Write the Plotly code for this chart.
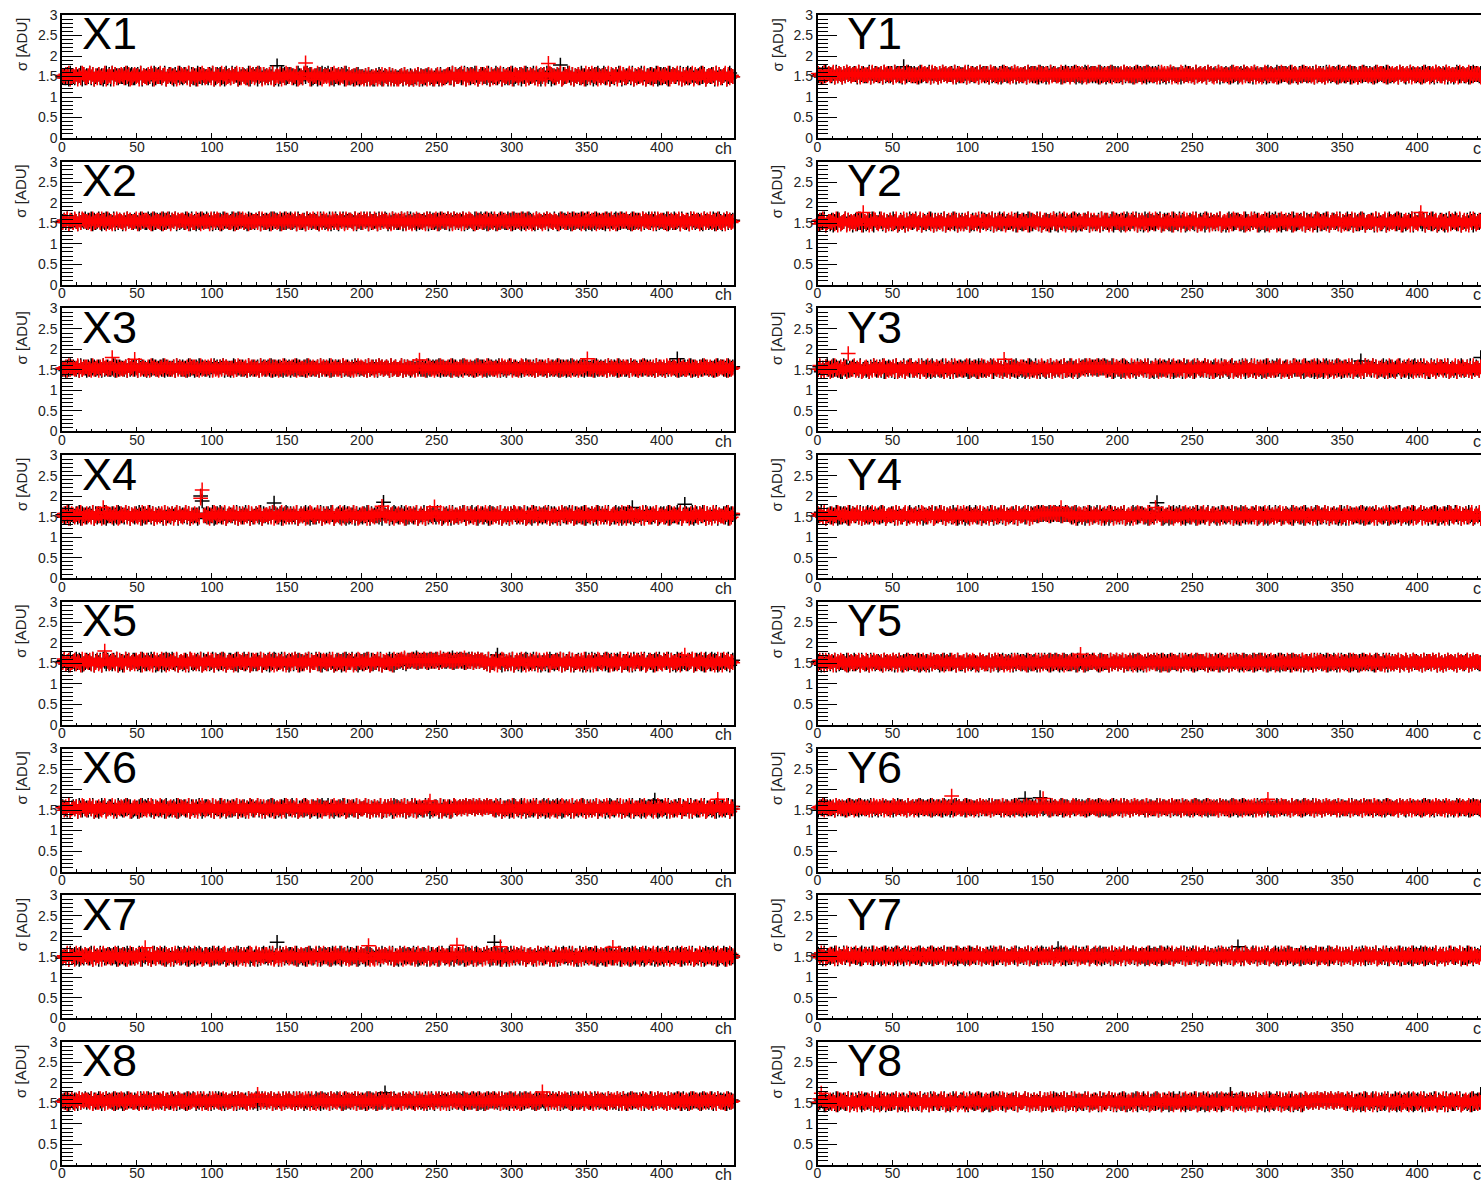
import numpy as np
import plotly.graph_objects as go

W, H = 1481, 1180

# pad geometry (pixels): 8 rows x 2 columns, right column runs off the page edge
COL_LEFT = [62.0, 817.5]
PAD_W = 671.5
ROW_TOP0, ROW_PITCH, PAD_H = 15.0, 146.7, 123.0
N_CH = 448
PX_PER_CH = PAD_W / N_CH

# pedestal sigma per channel, stored as one digit per channel:
# sigma = level + (digit - 4.5) * STEP
STEP = 0.03

panel_names = ["X1", "X2", "X3", "X4", "X5", "X6", "X7", "X8",
               "Y1", "Y2", "Y3", "Y4", "Y5", "Y6", "Y7", "Y8"]
panel_levels = [1.51, 1.53, 1.53, 1.53, 1.53, 1.54, 1.51, 1.54,
                1.53, 1.53, 1.53, 1.53, 1.50, 1.54, 1.52, 1.54]

x_tick_step = 50
y_tick_step = 0.5
y_range = [0, 3]

x1_black = """
45362754 36457263 54736245 63524736 27465354 46372563 35647254 53462735
64357246 45263574 36547263 52746354 43657236 56342745 37465234 65437256
46275364 53647235 24756346 65342754 36475623 45263746 57436245 34652743
34253624 43526342 25364235 42635243 34526342 53243625 24356342 35426334
45637264 56347265 36475246 64537254 47356263 53647245 36254763 45736452
56374625 34657264 47536254 63745236 45263754 57346245 36475263 54637254
45736254 63547236 36452746 54637263 47365354 53746245 46527364 35624754
"""
x1_red = """
53647245 46253764 35746253 64357245 47263546 53746235 64527354 36475264
47356245 63542736 54637246 35264753 46537264 52746345 36457263 64352746
35746263 54637245 46253764 63547235 37465264 54736245 45263754 63547236
34526343 42536234 35243625 43625342 24536342 34253624 43526353 24635243
56347264 45736253 64537246 36475263 53647254 46372565 35647253 64537246
46253764 53647236 45736254 64352746 37546253 54637264 46257364 35746253
64537245 36254763 54637246 45736253 63547264 36475245 54637263 45726354
"""
x2_black = """
56473564 65374657 46573645 75364756 54736465 36475654 65437564 47563746
56374657 46573645 64756374 53647565 75463746 46375654 57364756 64537465
46573654 65374756 53647465 74563754 46375645 65437564 54736475 36574656
65473564 47563745 56374657 63547564 45736475 74653645 56473746 45637564
57364756 46573645 65374657 54736475 63547564 47563746 56374657 65437465
46573654 75364756 54637465 64756374 53647565 46375654 67364756 54537465
65374657 46573645 56473564 74563754 46375645 65437564 54736475 36574656
"""
x2_red = """
46573654 75364765 54637456 64756374 53647565 46375645 57364756 65437465
54736475 36574656 65473564 47563745 56374657 63547564 45736475 74653645
56473746 45637564 57364756 46573645 65374657 54736475 63547564 47563746
65374657 46573654 75364756 54637465 64756374 53647565 46375654 67364756
47563746 56374657 65437465 46573654 75364756 54637465 64756374 53647565
36475654 65437564 47563746 56374657 46573645 64756374 53647565 75463746
46375654 57364756 64537465 46573654 65374756 53647465 74563754 46375645
"""
x3_black = """
45364756 54637465 36475645 65374564 45736465 54637456 46375645 35647564
56473645 45637564 64537465 36475654 55364756 46573645 35764564 64537456
45637564 56473645 64537456 35647564 46375645 54637465 45736465 65374564
36475645 54637456 46375645 65374564 45736465 35647564 64537456 56473645
45637564 36475654 55364756 64537465 46573645 35764564 45364756 54637465
64537456 45736465 36475645 56473645 54637456 45637564 65374564 46375645
35647564 64537465 45364756 54637456 46573645 36475654 55364756 64537456
"""
x3_red = """
54637465 45736456 64537456 36475645 56473645 45637564 65374564 46375645
35647564 54637465 45364756 64537456 46573645 36475654 55364756 45637564
64537456 45736465 36475645 56473645 54637456 45637564 65374564 46375645
45364756 54637465 36475645 65374564 45736465 54637456 46375645 35647564
56473645 45637564 64537465 36475654 55364756 46573645 35764564 64537456
45637564 56473645 64537456 35647564 46375645 54637465 45736465 65374564
36475645 54637456 46375645 65374564 45736465 35647564 64537456 56473645
"""
x4_black = """
53647254 46372645 35647263 64537245 46253764 53746254 36475263 45736254
64527345 36457264 54736245 45263754 63547236 47356245 54637264 35746253
46537264 53647245 36254763 64537246 45736253 53647264 46475245 63547263
45726354 36475264 54637245 46253764 35746253 64357245 47263546 53746235
64527354 36475264 47356245 63542736 54637246 35264753 46537264 52746345
36457263 64352746 35746263 54637245 46253764 63547235 37465264 54736245
45263754 63547236 56347264 45736253 64537246 36475263 53647254 46372565
"""
x4_red = """
46372565 35647253 64537246 46253764 53647236 45736254 64352746 37546253
54637264 46257364 35746253 64537245 36254763 54637246 45736253 63547264
36475245 54637263 45726354 53647245 46253764 35746253 64357245 47263546
53746235 64527354 36475264 47356245 63542736 54637246 35264753 46537264
52746345 36457263 64352746 35746263 54637245 46253764 63547235 37465264
54736245 45263754 63547236 45362754 36457263 54736245 63524736 27465354
46372563 35647254 53462735 64357246 45263574 36547263 52746354 43657236
"""
x5_black = """
56342745 37465234 65437256 46275364 53647235 24756346 65342754 36475623
45263746 57436245 34652743 45637264 56347265 36475246 64537254 47356263
53647245 36254763 45736452 56374625 34657264 47536254 63745236 45263754
57346245 36475263 54637254 45736254 65647356 56758465 67564756 57646575
56758465 67564657 57465756 64537254 47356263 53647245 36254763 45736452
45362754 36457263 54736245 63524736 27465354 46372563 35647254 53462735
64357246 45263574 36547263 52746354 43657236 56342745 37465234 65437256
"""
x5_red = """
47356245 63542736 54637246 35264753 46537264 52746345 36457263 64352746
35746263 54637245 46253764 63547235 37465264 54736245 45263754 63547236
56347264 45736253 64537246 36475263 53647254 46372565 35647253 64537246
46253764 53647236 45736254 64352746 56758465 67564756 57646575 65748566
67564657 56758465 57465756 64537245 36254763 54637246 45736253 63547264
36475245 54637263 45726354 53647245 46253764 35746253 64357245 47263546
53746235 64527354 36475264 45362754 36457263 54736245 63524736 27465354
"""
x6_black = """
65437256 46275364 53647235 24756346 65342754 36475623 45263746 57436245
34652743 45637264 56347265 36475246 64537254 47356263 53647245 36254763
45736452 56374625 34657264 47536254 63745236 45263754 57346245 36475263
54637254 45736254 63547236 36452746 54637263 47365354 53746245 46527364
35624754 56465746 65746575 46575664 53647245 46253764 35746253 64357245
47263546 53746235 64527354 36475264 53647245 46253764 35746253 64357245
47263546 53746235 64527354 36475264 46372563 35647254 53462735 64357246
"""
x6_red = """
53647245 46253764 35746253 64357245 47263546 53746235 64527354 36475264
47356245 63542736 54637246 35264753 46537264 52746345 36457263 64352746
35746263 54637245 46253764 63547235 37465264 54736245 45263754 63547236
56347264 45736253 64537246 36475263 53647254 46372565 35647253 64537246
46253764 56465746 65746575 46575664 37546253 54637264 46257364 35746253
64537245 36254763 54637246 45736253 63547264 36475245 54637263 45726354
53647245 46253764 35746253 64357245 47263546 53746235 64527354 36475264
"""
x7_black = """
35462754 63527436 45372645 27463546 53642735 46275364 35476254 63524736
54637245 36254763 47352645 26374536 45627354 73546235 64253746 35467253
46253674 53746352 27463546 64537245 35264753 46372546 53627435 47256374
63547236 45273654 36452746 54637253 27364546 53746235 46527364 35624753
45736254 63452736 54267354 36475263 47352645 26374536 53746245 64253746
35467253 46253674 53746352 27463546 64537245 35264753 46372546 53627435
46352745 53624735 42675346 35746253 64537254 36452746 53746235 47265364
"""
x7_red = """
45372645 27463546 53642735 46275364 35476254 63524736 35462754 63527436
47352645 26374536 45627354 73546235 64253746 35467253 54637245 36254763
27463546 64537245 35264753 46372546 53627435 47256374 46253674 53746352
36452746 54637253 27364546 53746235 46527364 35624753 63547236 45273654
54267354 36475263 47352645 26374536 53746245 64253746 45736254 63452736
53746352 27463546 64537245 35264753 46372546 53627435 35467253 46253674
42675346 35746253 64537254 36452746 53746235 47265364 46352745 53624735
"""
x8_black = """
56473564 65374657 46573645 75364756 54736465 36475654 65437564 47563746
65473564 47563745 56374657 63547564 45736475 74653645 56473746 45637564
57364756 46573645 65374657 54736475 63547564 47563746 56374657 65437465
46573654 65374756 53647465 74563754 46375645 65437564 54736475 36574656
56374657 46573645 64756374 53647565 75463746 46375654 57364756 64537465
65374657 46573645 56473564 74563754 46375645 65437564 54736475 36574656
46573654 75364756 54637465 64756374 53647565 46375654 67364756 54537465
"""
x8_red = """
54736475 36574656 65473564 47563745 56374657 63547564 45736475 74653645
46573654 75364765 54637456 64756374 53647565 46375645 57364756 65437465
65374657 46573654 75364756 54637465 64756374 53647565 46375654 67364756
56473746 45637564 57364756 46573645 65374657 54736475 63547564 47563746
36475654 65437564 47563746 56374657 46573645 64756374 53647565 75463746
47563746 56374657 65437465 46573654 75364756 54637465 64756374 53647565
46375654 57364756 64537465 46573654 65374756 53647465 74563754 46375645
"""
y1_black = """
45364756 54637465 36475645 65374564 45736465 54637456 46375645 35647564
64537456 45736465 36475645 56473645 54637456 45637564 65374564 46375645
56473645 45637564 64537465 36475654 55364756 46573645 35764564 64537456
35647564 64537465 45364756 54637456 46573645 36475654 55364756 64537456
45637564 56473645 64537456 35647564 46375645 54637465 45736465 65374564
36475645 54637456 46375645 65374564 45736465 35647564 64537456 56473645
45637564 36475654 55364756 64537465 46573645 35764564 45364756 54637465
"""
y1_red = """
64537456 45736465 36475645 56473645 54637456 45637564 65374564 46375645
45364756 54637465 36475645 65374564 45736465 54637456 46375645 35647564
36475645 54637456 46375645 65374564 45736465 35647564 64537456 56473645
56473645 45637564 64537465 36475654 55364756 46573645 35764564 64537456
45637564 36475654 55364756 64537465 46573645 35764564 45364756 54637465
35647564 64537465 45364756 54637456 46573645 36475654 55364756 64537456
45637564 56473645 64537456 35647564 46375645 54637465 45736465 65374564
"""
y2_black = """
53647245 36254763 45736452 56374625 34657264 47536254 63745236 45263754
57346245 36475263 54637254 45736254 63547236 36452746 54637263 47365354
45362754 36457263 54736245 63524736 27465354 46372563 35647254 53462735
64357246 45263574 36547263 52746354 43657236 56342745 37465234 65437256
46275364 53647235 24756346 65342754 36475623 45263746 57436245 34652743
45637264 56347265 36475246 64537254 47356263 53746245 46527364 35624754
56374625 34657264 47536254 63745236 45263754 57346245 36475263 54637254
"""
y2_red = """
36475245 54637263 45726354 53647245 46253764 35746253 64357245 47263546
56347264 45736253 64537246 36475263 53647254 46372565 35647253 64537246
47356245 63542736 54637246 35264753 46537264 52746345 36457263 64352746
46253764 53647236 45736254 64352746 37546253 54637264 46257364 35746253
35746263 54637245 46253764 63547235 37465264 54736245 45263754 63547236
64537245 36254763 54637246 45736253 63547264 36475245 54637263 45726354
53746235 64527354 36475264 47356245 63542736 54637246 35264753 46537264
"""
y3_black = """
46253674 53746352 27463546 64537245 35264753 46372546 53627435 47256374
35462754 63527436 45372645 27463546 53642735 46275364 35476254 63524736
54637245 36254763 47352645 26374536 45627354 73546235 65764756 56475657
63547236 45273654 36452746 54637253 27364546 53746235 46527364 35624753
45736254 63452736 54267354 36475263 47352645 26374536 53746245 64253746
46352745 53624735 42675346 35746253 64537254 36452746 53746235 47265364
35467253 46253674 53746352 27463546 64537245 35264753 46372546 53627435
"""
y3_red = """
47352645 26374536 45627354 73546235 64253746 35467253 54637245 36254763
45372645 27463546 53642735 46275364 35476254 63524736 35462754 63527436
27463546 64537245 35264753 46372546 53627435 47256374 56475764 65746575
36452746 54637253 27364546 53746235 46527364 35624753 63547236 45273654
53746352 27463546 64537245 35264753 46372546 53627435 35467253 46253674
54267354 36475263 47352645 26374536 53746245 64253746 45736254 63452736
42675346 35746253 64537254 36452746 53746235 47265364 46352745 53624735
"""
y4_black = """
45736254 63547236 36452746 54637263 47365354 53746245 46527364 35624754
56374625 34657264 47536254 63745236 45263754 57346245 36475263 54637254
45637264 56347265 56475756 65746576 57465756 53647245 36254763 45736452
46275364 53647235 24756346 65342754 36475623 45263746 57436245 34652743
64357246 45263574 36547263 52746354 43657236 56342745 37465234 65437256
45362754 36457263 54736245 63524736 27465354 46372563 35647254 53462735
53647245 36254763 45736452 56374625 34657264 47536254 63745236 45263754
"""
y4_red = """
64537245 36254763 54637246 45736253 63547264 36475245 54637263 45726354
46253764 53647236 45736254 64352746 37546253 54637264 46257364 35746253
56347264 45736253 65746576 56475765 65746575 46372565 35647253 64537246
35746263 54637245 46253764 63547235 37465264 54736245 45263754 63547236
47356245 63542736 54637246 35264753 46537264 52746345 36457263 64352746
53647245 46253764 35746253 64357245 47263546 53746235 64527354 36475264
36475245 54637263 45726354 53647245 46253764 35746253 64357245 47263546
"""
y5_black = """
65374657 46573645 56473564 74563754 46375645 65437564 54736475 36574656
46573654 65374756 53647465 74563754 46375645 65437564 54736475 36574656
57364756 46573645 65374657 54736475 63547564 47563746 56374657 65437465
56374657 46573645 64756374 53647565 75463746 46375654 57364756 64537465
65473564 47563745 56374657 63547564 45736475 74653645 56473746 45637564
56473564 65374657 46573645 75364756 54736465 36475654 65437564 47563746
46573654 75364756 54637465 64756374 53647565 46375654 67364756 54537465
"""
y5_red = """
47563746 56374657 65437465 46573654 75364756 54637465 64756374 53647565
54736475 36574656 65473564 47563745 56374657 63547564 45736475 74653645
36475654 65437564 47563746 56374657 46573645 64756374 53647565 75463746
65374657 46573654 75364756 54637465 64756374 53647565 46375654 67364756
56473746 45637564 57364756 46573645 65374657 54736475 63547564 47563746
46375654 57364756 64537465 46573654 65374756 53647465 74563754 46375645
46573654 75364765 54637456 64756374 53647565 46375645 57364756 65437465
"""
y6_black = """
35647564 64537465 45364756 54637456 46573645 36475654 55364756 64537456
45637564 56473645 64537456 35647564 46375645 54637465 45736465 65374564
36475645 54637456 46375645 65374564 45736465 35647564 64537456 56473645
45364756 54637465 36475645 65374564 45736465 54637456 46375645 35647564
56473645 45637564 64537465 36475654 55364756 46573645 35764564 64537456
64537456 45736465 36475645 56473645 54637456 45637564 65374564 46375645
45637564 36475654 55364756 64537465 46573645 35764564 45364756 54637465
"""
y6_red = """
56473645 45637564 64537465 36475654 55364756 46573645 35764564 64537456
36475645 54637456 46375645 65374564 45736465 35647564 64537456 56473645
45637564 36475654 55364756 64537465 46573645 35764564 45364756 54637465
64537456 45736465 36475645 56473645 54637456 45637564 65374564 46375645
35647564 64537465 45364756 54637456 46573645 36475654 55364756 64537456
45364756 54637465 36475645 65374564 45736465 54637456 46375645 35647564
45637564 56473645 64537456 35647564 46375645 54637465 45736465 65374564
"""
y7_black = """
64527354 36475264 47356245 63542736 54637246 35264753 46537264 52746345
53647254 46372645 35647263 64537245 46253764 53746254 36475263 45736254
46537264 53647245 36254763 64537246 45736253 53647264 46475245 63547263
64527345 36457264 54736245 45263754 63547236 47356245 54637264 35746253
45726354 36475264 54637245 46253764 35746253 64357245 47263546 53746235
45263754 63547236 56347264 45736253 64537246 36475263 53647254 46372565
36457263 64352746 35746263 54637245 46253764 63547235 37465264 54736245
"""
y7_red = """
53746235 64527354 36475264 47356245 63542736 54637246 35264753 46537264
46372565 35647253 64537246 46253764 53647236 45736254 64352746 37546253
36475245 54637263 45726354 53647245 46253764 35746253 64357245 47263546
54637264 46257364 35746253 64537245 36254763 54637246 45736253 63547264
54736245 45263754 63547236 45362754 36457263 54736245 63524736 27465354
52746345 36457263 64352746 35746263 54637245 46253764 63547235 37465264
46372563 35647254 53462735 64357246 45263574 36547263 52746354 43657236
"""
y8_black = """
34652743 45637264 56347265 36475246 64537254 47356263 53647245 36254763
65437256 46275364 53647235 24756346 65342754 36475623 45263746 57436245
54637254 45736254 63547236 36452746 54637263 47365354 53746245 46527364
45736452 56374625 34657264 47536254 63745236 45263754 57346245 36475263
47263546 53746235 64527354 36475264 53647245 46253764 35746253 64357245
35624754 56465746 65746575 46575664 53647245 46253764 35746253 64357245
47263546 53746235 64527354 36475264 46372563 35647254 53462735 64357246
"""
y8_red = """
47356245 63542736 54637246 35264753 46537264 52746345 36457263 64352746
53647245 46253764 35746253 64357245 47263546 53746235 64527354 36475264
56347264 45736253 64537246 36475263 53647254 46372565 35647253 64537246
35746263 54637245 46253764 63547235 37465264 54736245 45263754 63547236
64537245 36254763 54637246 45736253 63547264 36475245 54637263 45726354
46253764 56465746 65746575 46575664 37546253 54637264 46257364 35746253
53647245 46253764 35746253 64357245 47263546 53746235 64527354 36475264
"""

# noisy channels: (channel, sigma)
x1_black_hot = [(143, 1.76), (332, 1.78)]
x1_red_hot = [(162, 1.83), (324, 1.82)]
x2_black_hot = []
x2_red_hot = []
x3_black_hot = [(410, 1.77)]
x3_red_hot = [(33, 1.80), (48, 1.76), (238, 1.74), (350, 1.77)]
x4_black_hot = [(92, 2.00), (93, 1.88), (141, 1.83), (214, 1.85), (380, 1.72), (415, 1.80)]
x4_red_hot = [(93, 2.15), (92, 1.95), (213, 1.75), (248, 1.74), (27, 1.72)]
x5_black_hot = [(290, 1.70)]
x5_red_hot = [(28, 1.80), (415, 1.70)]
x6_black_hot = [(395, 1.74)]
x6_red_hot = [(437, 1.76), (245, 1.72)]
x7_black_hot = [(143, 1.85), (288, 1.85)]
x7_red_hot = [(204, 1.77), (263, 1.78), (292, 1.74), (367, 1.73), (55, 1.72)]
x8_black_hot = [(215, 1.76)]
x8_red_hot = [(320, 1.78), (130, 1.72)]
y1_black_hot = [(57, 1.74)]
y1_red_hot = []
y2_black_hot = []
y2_red_hot = [(30, 1.76), (402, 1.76)]
y3_black_hot = [(442, 1.80), (362, 1.72)]
y3_red_hot = [(20, 1.90), (124, 1.76)]
y4_black_hot = [(226, 1.84)]
y4_red_hot = [(225, 1.72), (162, 1.72)]
y5_black_hot = []
y5_red_hot = [(175, 1.72)]
y6_black_hot = [(138, 1.78), (148, 1.80)]
y6_red_hot = [(89, 1.84), (150, 1.78), (300, 1.76)]
y7_black_hot = [(280, 1.74), (160, 1.70)]
y7_red_hot = []
y8_black_hot = [(275, 1.72), (442, 1.72)]
y8_red_hot = [(2, 1.75)]

black_codes = [x1_black, x2_black, x3_black, x4_black, x5_black, x6_black, x7_black, x8_black,
               y1_black, y2_black, y3_black, y4_black, y5_black, y6_black, y7_black, y8_black]
red_codes = [x1_red, x2_red, x3_red, x4_red, x5_red, x6_red, x7_red, x8_red,
             y1_red, y2_red, y3_red, y4_red, y5_red, y6_red, y7_red, y8_red]
black_hot = [x1_black_hot, x2_black_hot, x3_black_hot, x4_black_hot, x5_black_hot,
             x6_black_hot, x7_black_hot, x8_black_hot, y1_black_hot, y2_black_hot,
             y3_black_hot, y4_black_hot, y5_black_hot, y6_black_hot, y7_black_hot, y8_black_hot]
red_hot = [x1_red_hot, x2_red_hot, x3_red_hot, x4_red_hot, x5_red_hot,
           x6_red_hot, x7_red_hot, x8_red_hot, y1_red_hot, y2_red_hot,
           y3_red_hot, y4_red_hot, y5_red_hot, y6_red_hot, y7_red_hot, y8_red_hot]


def sigma_values(code, level, hot):
    digits = np.array([int(c) for c in "".join(code.split())], dtype=float)
    vals = level + (digits - 4.5) * STEP
    for ch, v in hot:
        if ch < len(vals):
            vals[ch] = v
    return vals


FONT = "Liberation Sans, Arial, Helvetica, sans-serif"
fig = go.Figure()
annotations = []
layout = dict(template="none", width=W, height=H,
              margin=dict(l=0, r=0, t=0, b=0, pad=0, autoexpand=False),
              paper_bgcolor="white", plot_bgcolor="white", showlegend=False)

for p, name in enumerate(panel_names):
    col, row = divmod(p, 8)
    n = p + 1
    xa = "x" if n == 1 else f"x{n}"
    ya = "y" if n == 1 else f"y{n}"
    top = ROW_TOP0 + row * ROW_PITCH
    x0 = COL_LEFT[col]
    x1 = min(x0 + PAD_W, W)
    x_max = (x1 - x0) / PX_PER_CH

    for code, hot, color in ((black_codes[p], black_hot[p], "black"),
                             (red_codes[p], red_hot[p], "#ff0000")):
        vals = sigma_values(code, panel_levels[p], hot)
        ch = np.arange(len(vals)) + 0.5
        fig.add_trace(go.Scatter(
            x=ch, y=vals, mode="markers", xaxis=xa, yaxis=ya,
            marker=dict(symbol="cross-thin", size=10.5, color=color,
                        line=dict(width=1.5, color=color)),
            cliponaxis=False, hoverinfo="skip", showlegend=False))

    common = dict(showgrid=False, zeroline=False, showline=True, linecolor="black",
                  linewidth=1.5, ticks="inside", tickcolor="black", tickwidth=1,
                  automargin=False,
                  tickfont=dict(family=FONT, size=14, color="#222"))
    layout["xaxis" if n == 1 else f"xaxis{n}"] = dict(
        common, domain=[x0 / W, x1 / W], range=[0, x_max], anchor=ya,
        tickmode="linear", tick0=0, dtick=x_tick_step, ticklen=5, mirror=True,
        ticklabelstandoff=-5,
        minor=dict(dtick=10, tick0=0, ticklen=2.5, ticks="inside",
                   tickcolor="black", tickwidth=1))
    layout["yaxis" if n == 1 else f"yaxis{n}"] = dict(
        common, domain=[1 - (top + PAD_H) / H, 1 - top / H], range=y_range, anchor=xa,
        tickmode="linear", tick0=0, dtick=y_tick_step, ticklen=20, mirror=(col == 0),
        minor=dict(dtick=0.1, tick0=0, ticklen=11, ticks="inside",
                   tickcolor="black", tickwidth=1))

    # pad name
    annotations.append(dict(text=name, xref="paper", yref="paper",
                            x=(x0 + (17.5 if col == 0 else 27.5)) / W,
                            y=1 - (top + 19) / H, xanchor="left", yanchor="middle",
                            showarrow=False, font=dict(family=FONT, size=45, color="black")))
    # y title
    annotations.append(dict(text="σ [ADU]", xref="paper", yref="paper",
                            x=(x0 - 41) / W, y=1 - (top + 30) / H, textangle=-90,
                            xanchor="center", yanchor="middle", showarrow=False,
                            font=dict(family=FONT, size=15, color="#222")))
    # x title
    if col == 0:
        annotations.append(dict(text="ch", xref="paper", yref="paper",
                                x=x1 / W, y=1 - (top + PAD_H + 10) / H,
                                xanchor="right", yanchor="middle", showarrow=False,
                                font=dict(family=FONT, size=16, color="#222")))
    else:
        annotations.append(dict(text="ch", xref="paper", yref="paper",
                                x=1471 / W, y=1 - (top + PAD_H + 10) / H,
                                xanchor="left", yanchor="middle", showarrow=False,
                                font=dict(family=FONT, size=16, color="#222")))

layout["annotations"] = annotations
fig.update_layout(**layout)
fig.write_html("out.html")
